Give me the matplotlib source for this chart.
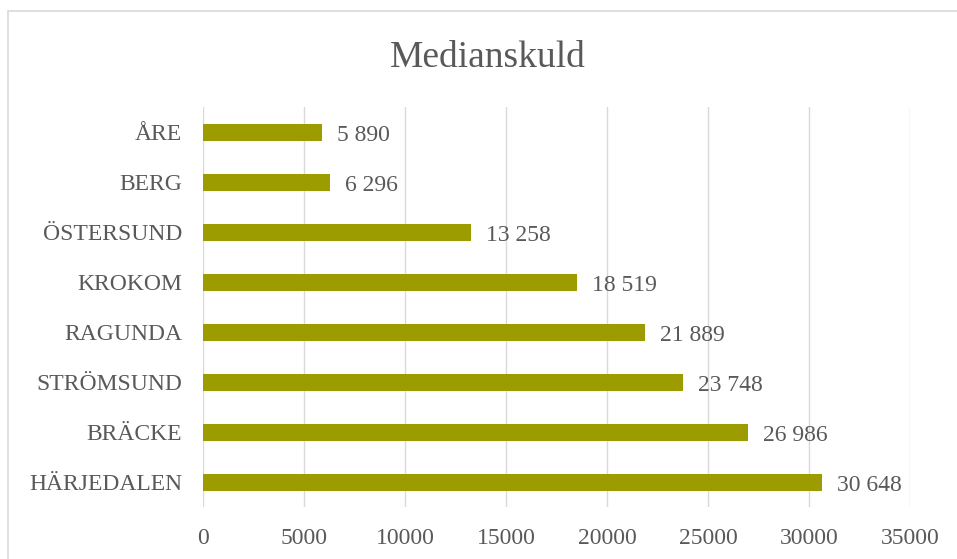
import matplotlib
matplotlib.use('Agg')

import matplotlib.pyplot as plt
import matplotlib.patches as mpatches

# data, bottom to top
kommuner = ['HÄRJEDALEN', 'BRÄCKE', 'STRÖMSUND', 'RAGUNDA',
            'KROKOM', 'ÖSTERSUND', 'BERG', 'ÅRE']
medianskuld = [30648, 26986, 23748, 21889, 18519, 13258, 6296, 5890]
xticks = [0, 5000, 10000, 15000, 20000, 25000, 30000, 35000]

BAR_COLOR = '#9C9C00'
TEXT_COLOR = '#595959'
GRID_COLOR = '#D9D9D9'

plt.rcParams['font.family'] = ['Liberation Serif', 'DejaVu Serif']


def fmt(v):
    return '{:,}'.format(v).replace(',', ' ')


def main():
    fig = plt.figure(figsize=(9.57, 5.59), dpi=100)

    # chart border (runs off the right and bottom edge)
    fig.patches.append(mpatches.Rectangle(
        (8 / 957, -0.1), 1.2, 1 - 11 / 559 + 0.1,
        transform=fig.transFigure, fill=False,
        edgecolor=GRID_COLOR, linewidth=1.2))

    ax = fig.add_axes([203 / 957, 52 / 559, 707 / 957, 400 / 559])

    ypos = list(range(len(kommuner)))
    ax.barh(ypos, medianskuld, height=0.34, color=BAR_COLOR, zorder=3)

    for y, v in zip(ypos, medianskuld):
        ax.annotate(fmt(v), xy=(v, y), xytext=(11, -1),
                    textcoords='offset points', va='center_baseline',
                    ha='left', fontsize=17, color=TEXT_COLOR)

    ax.set_xlim(0, 35000)
    ax.set_ylim(-0.5, len(kommuner) - 0.5)
    ax.set_xticks(xticks)
    ax.set_xticklabels([str(t) for t in xticks])
    ax.set_yticks(ypos)
    ax.set_yticklabels(kommuner, va='center_baseline')
    ax.tick_params(axis='both', length=0, labelsize=17, labelcolor=TEXT_COLOR)
    ax.tick_params(axis='y', pad=15)
    ax.tick_params(axis='x', pad=15)

    for s in ax.spines.values():
        s.set_visible(False)
    ax.grid(axis='x', color=GRID_COLOR, linewidth=1.0, zorder=0)
    ax.set_axisbelow(True)

    fig.text(488 / 957, 1 - 67 / 559, 'Medianskuld', ha='center',
             va='baseline', fontsize=27, color=TEXT_COLOR)

    fig.savefig('out.png', dpi=100)


if __name__ == '__main__':
    main()
